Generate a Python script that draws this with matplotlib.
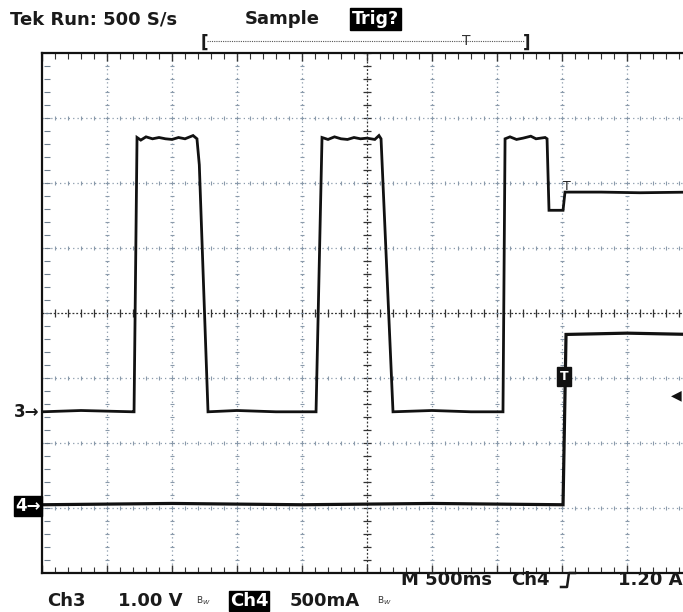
import numpy as np
import matplotlib
matplotlib.use("Agg")
import matplotlib.pyplot as plt
from matplotlib.lines import Line2D

W, H = 683, 612

# Oscilloscope settings
TIME_PER_DIV = 500.0     # ms/div
CH3_PER_DIV = 1.00       # V/div
CH4_PER_DIV = 0.5        # A/div
CH3_GND_DIV = -1.52      # ground marker "3->" in divisions from center
CH4_GND_DIV = -2.95      # ground marker "4->"

# Ch3 trace: time (ms from left edge) and volts
ch3_t = [0, 300, 700, 708, 731, 760, 800, 850, 900, 950, 1000, 1050, 1100, 1162, 1192,
         1210, 1277, 1500, 1800, 2108, 2154, 2200, 2250, 2300, 2350, 2400, 2450, 2500,
         2560, 2592, 2608, 2700, 3000, 3300, 3546, 3562, 3600, 3650, 3700, 3760, 3800,
         3870, 3885, 3900, 4008, 4023, 4300, 4600, 5000]
ch3_v = [0.0, 0.02, 0.0, 0.0, 4.22, 4.18, 4.23, 4.2, 4.22, 4.2, 4.19, 4.22, 4.2, 4.25, 4.2,
         3.8, 0.0, 0.02, 0.0, 0.0, 4.22, 4.19, 4.23, 4.2, 4.19, 4.22, 4.2, 4.21,
         4.19, 4.25, 4.2, 0.0, 0.02, 0.0, 0.0, 4.2, 4.23, 4.19, 4.21, 4.24, 4.2,
         4.22, 4.2, 3.1, 3.1, 3.38, 3.38, 3.37, 3.38]

# Ch4 trace: time (ms) and amps
ch4_t = [0, 1000, 2000, 3000, 4008, 4031, 4500, 5000]
ch4_a = [0.0, 0.01, 0.0, 0.01, 0.0, 1.31, 1.32, 1.31]

TRIG_T = 4015            # ms, trigger position
TRIG_LEVEL_DIV = -0.98   # "T" box on ch4 trace


def px(x, y):
    return x / W, 1 - y / H


fig = plt.figure(figsize=(W / 100, H / 100), dpi=100)
fig.patch.set_facecolor("white")
ax = fig.add_axes([42 / W, 1 - 573 / H, 650 / W, 520 / H])
ax.set_xlim(0, 10 * TIME_PER_DIV)
ax.set_ylim(-4, 4)
ax.set_facecolor("white")

ax.spines["right"].set_visible(False)
for s in ["left", "top", "bottom"]:
    ax.spines[s].set_linewidth(1.6)
    ax.spines[s].set_color("#111111")

ax.set_xticks(np.arange(0, 5001, 500))
ax.set_xticks(np.arange(0, 5001, 100), minor=True)
ax.set_yticks([])
ax.tick_params(axis="x", which="both", direction="in", top=True, bottom=True,
               labelbottom=False, labeltop=False, color="#333333")
ax.tick_params(axis="x", which="major", length=6, width=1)
ax.tick_params(axis="x", which="minor", length=4, width=0.8)

# graticule
gcol = "#8a9aab"
grid_kw = dict(color=gcol, lw=0.9, ls=(0, (1, 2.5)), zorder=1)
for g in np.arange(500, 5000, 500):
    if g != 2500:
        ax.axvline(g, **grid_kw)
for g in range(-3, 4):
    if g != 0:
        ax.axhline(g, **grid_kw)
ax.axhline(0, color="#333333", lw=0.9, ls=(0, (1.5, 1.5)), zorder=1)
ax.axvline(2500, color="#333333", lw=0.9, ls=(0, (1.5, 1.5)), zorder=1)
mt = np.arange(0, 5001, 100)
ax.plot(mt, np.zeros_like(mt), ls="none", marker="|", ms=6, mew=0.9, color="#333333", zorder=1)
my = np.arange(-4, 4.01, 0.2)
ax.plot(np.full_like(my, 2500), my, ls="none", marker="_", ms=6, mew=0.9, color="#333333", zorder=1)
for g in np.arange(500, 5000, 500):
    if g != 2500:
        ax.plot(np.full_like(my, g), my, ls="none", marker="_", ms=3, mew=0.8,
                color=gcol, zorder=1)
for g in range(-3, 4):
    if g != 0:
        ax.plot(mt, np.full_like(mt, g, dtype=float), ls="none", marker="|", ms=3, mew=0.8,
                color=gcol, zorder=1)
ax.plot(np.full_like(my, 40), my, ls="none", marker="_", ms=4, mew=0.8, color="#6f7f8f", zorder=1)

# traces
ch3_div = np.array(ch3_v) / CH3_PER_DIV + CH3_GND_DIV
ch4_div = np.array(ch4_a) / CH4_PER_DIV + CH4_GND_DIV
ax.plot(ch3_t, ch3_div, color="#111111", lw=2.0, zorder=3, solid_joinstyle="miter")
ax.plot(ch4_t, ch4_div, color="#111111", lw=2.3, zorder=3, solid_joinstyle="miter")

# trigger box on ch4 and small T on ch3
ax.text(TRIG_T, TRIG_LEVEL_DIV, "T", color="white", fontsize=9, fontweight="bold",
        ha="center", va="center", zorder=5,
        bbox=dict(boxstyle="square,pad=0.25", fc="#111111", ec="#111111"))
ax.text(TRIG_T + 20, 1.95, "T", color="#222222", fontsize=9, ha="center", va="center", zorder=4)

FS = 13
font = dict(family="DejaVu Sans", fontweight="bold", color="#1a1a1a")

# header
fig.text(*px(10, 19), "Tek Run: 500 S/s", fontsize=FS, va="center", ha="left", **font)
fig.text(*px(245, 19), "Sample", fontsize=FS, va="center", ha="left", **font)
fig.text(*px(352, 19), "Trig?", fontsize=FS - 0.5, va="center", ha="left", color="white",
         fontweight="bold", bbox=dict(boxstyle="square,pad=0.1", fc="black", ec="black"))
fig.text(*px(204, 43), "[", fontsize=12, va="center", ha="center", **font)
fig.text(*px(527, 43), "]", fontsize=12, va="center", ha="center", **font)
fig.add_artist(Line2D([207 / W, 524 / W], [1 - 41 / H, 1 - 41 / H], color="#555555",
                      lw=0.8, ls=(0, (1, 1))))
fig.text(*px(466, 41), "T", fontsize=10, va="center", ha="center", color="#333333")

# ground markers
fig.text(*px(27, 412), "3\u2192", fontsize=12, va="center", ha="center", **font)
fig.text(*px(28, 506), "4\u2192", fontsize=12, va="center", ha="center", color="white",
         fontweight="bold", bbox=dict(boxstyle="square,pad=0.08", fc="black", ec="black"))
fig.text(*px(676, 395), "\u25c0", fontsize=10, va="center", ha="center", color="#111111")

# footer
fig.text(*px(401, 580), "M 500ms", fontsize=FS, va="center", ha="left", **font)
fig.text(*px(511, 580), "Ch4", fontsize=FS, va="center", ha="left", **font)
fig.add_artist(Line2D([561 / W, 567 / W, 569 / W, 575 / W],
                      [1 - 587 / H, 1 - 587 / H, 1 - 573 / H, 1 - 573 / H],
                      color="#1a1a1a", lw=1.8))
fig.text(*px(682, 580), "1.20 A", fontsize=FS, va="center", ha="right", **font)
fig.text(*px(47, 601), "Ch3", fontsize=FS, va="center", ha="left", **font)
fig.text(*px(118, 601), "1.00 V", fontsize=FS, va="center", ha="left", **font)
fig.text(*px(196, 601), "B$_W$", fontsize=6.5, va="center", ha="left", color="#333333")
fig.text(*px(230, 601), "Ch4", fontsize=FS, va="center", ha="left", color="white",
         fontweight="bold", bbox=dict(boxstyle="square,pad=0.05", fc="black", ec="black"))
fig.text(*px(290, 601), "500mA", fontsize=FS, va="center", ha="left", **font)
fig.text(*px(377, 601), "B$_W$", fontsize=6.5, va="center", ha="left", color="#333333")

fig.savefig("out.png", dpi=100, facecolor="white")
